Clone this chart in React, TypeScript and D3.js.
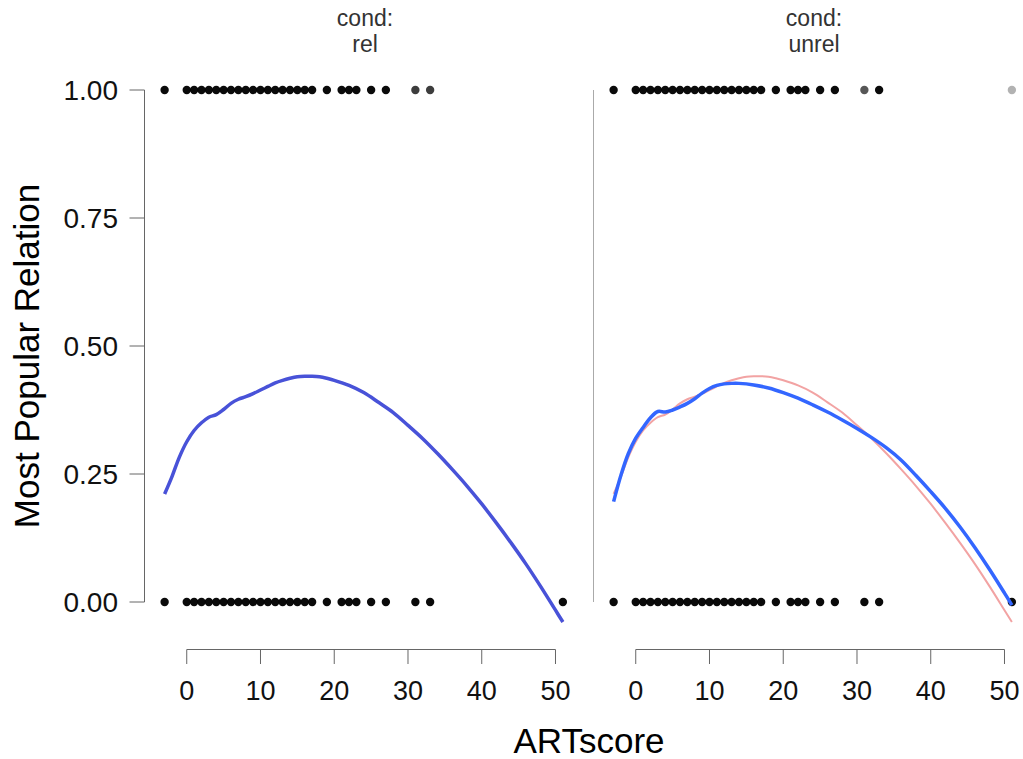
import React from 'react'
import * as d3 from 'd3'

// observed ARTscore values, one row per response (1 = chose most popular relation)
const denseRun = [0, 1, 2, 3, 4, 5, 6, 7, 8, 9, 10, 11, 12, 13, 14, 15, 16, 17]
const relTopX = [-3, ...denseRun, 19, 21, 22, 23, 25, 27, 31, 33]
const relTopN = [9, ...denseRun.map(() => 9), 9, 9, 9, 9, 9, 9, 4, 4]
const relBottomX = [-3, ...denseRun, 19, 21, 22, 23, 25, 27, 31, 33, 51]
const relBottomN = relBottomX.map(() => 9)
const unrelTopX = [-3, ...denseRun, 19, 21, 22, 23, 25, 27, 31, 33, 51]
const unrelTopN = [9, ...denseRun.map(() => 9), 9, 9, 9, 9, 9, 9, 3, 9, 1]
const unrelBottomX = [-3, ...denseRun, 19, 21, 22, 23, 25, 27, 31, 33, 51]
const unrelBottomN = unrelBottomX.map(() => 9)

// smooth fits
const relFitX = [-3, -2, -1, 0, 1, 2, 3, 4, 5, 6, 7, 8, 9, 10, 11, 12, 13, 14, 15, 16, 17, 18, 19, 20, 22, 24, 26, 28, 30, 32, 34, 36, 38, 40, 42, 44, 46, 48, 50, 51]
const relFitY = [0.211, 0.245, 0.283, 0.313, 0.335, 0.35, 0.361, 0.366, 0.376, 0.388, 0.396, 0.401, 0.407, 0.414, 0.421, 0.428, 0.433, 0.437, 0.44, 0.441, 0.441, 0.44, 0.437, 0.433, 0.423, 0.409, 0.39, 0.37, 0.345, 0.319, 0.29, 0.259, 0.2265, 0.1915, 0.154, 0.115, 0.074, 0.03, -0.016, -0.039]
const unrelFitX = [-3, -2, -1, 0, 1, 2, 3, 4, 5, 6, 7, 8, 9, 10, 11, 12, 13, 14, 16, 18, 20, 22, 24, 26, 28, 30, 32, 34, 36, 38, 40, 42, 44, 46, 48, 50, 51]
const unrelFitY = [0.196, 0.248, 0.29, 0.32, 0.341, 0.36, 0.372, 0.371, 0.375, 0.381, 0.388, 0.397, 0.408, 0.417, 0.423, 0.426, 0.427, 0.427, 0.424, 0.418, 0.409, 0.398, 0.385, 0.371, 0.3555, 0.339, 0.321, 0.301, 0.277, 0.247, 0.2155, 0.1825, 0.146, 0.106, 0.063, 0.0174, -0.006]

const xTicks = [0, 10, 20, 30, 40, 50]
const yTicks = [0, 0.25, 0.5, 0.75, 1]
const panelNames = ['rel', 'unrel']

const FONT = '"Liberation Sans", Arial, sans-serif'
const alpha = 0.3

const yScale = d3.scaleLinear().domain([0, 1]).range([602, 90])
const panelLeft = [145, 594]
const panelWidth = 440

const makeX = (left: number) =>
  d3.scaleLinear().domain([-5.66, 54]).range([left, left + panelWidth])

const toPoints = (xs: number[], ys: number[]) => xs.map((x, i) => [x, ys[i]] as [number, number])

const Dots = ({ xs, ns, yv, x }: { xs: number[]; ns: number[]; yv: number; x: d3.ScaleLinear<number, number> }) => (
  <g>
    {xs.map((v, i) => (
      <circle key={i} cx={x(v)} cy={yScale(yv)} r={4.2}
        fill="#000" fillOpacity={1 - Math.pow(1 - alpha, ns[i])} />
    ))}
  </g>
)

const Panel = ({ idx }: { idx: number }) => {
  const left = panelLeft[idx]
  const x = makeX(left)
  const line = d3.line<[number, number]>()
    .x(d => x(d[0]))
    .y(d => yScale(d[1]))
    .curve(d3.curveCatmullRom.alpha(0.5))
  const topX = idx === 0 ? relTopX : unrelTopX
  const topN = idx === 0 ? relTopN : unrelTopN
  const botX = idx === 0 ? relBottomX : unrelBottomX
  const botN = idx === 0 ? relBottomN : unrelBottomN
  const fitX = idx === 0 ? relFitX : unrelFitX
  const fitY = idx === 0 ? relFitY : unrelFitY
  const cx = left + panelWidth / 2
  return (
    <g>
      <text x={cx} y={26} textAnchor="middle" fontSize={23} fill="#333">cond:</text>
      <text x={cx} y={52} textAnchor="middle" fontSize={23} fill="#333">{panelNames[idx]}</text>
      {idx === 1 && (
        <line x1={left - 0.5} x2={left - 0.5} y1={yScale(1)} y2={yScale(0)} stroke="#aaa" strokeWidth={1} />
      )}
      {/* x axis */}
      <line x1={x(0)} x2={x(50)} y1={649.5} y2={649.5} stroke="#666" />
      {xTicks.map(t => (
        <g key={t}>
          <line x1={x(t)} x2={x(t)} y1={649.5} y2={664} stroke="#666" />
          <text x={x(t)} y={700} textAnchor="middle" fontSize={27} fill="#111">{t}</text>
        </g>
      ))}
      <Dots xs={topX} ns={topN} yv={1} x={x} />
      <Dots xs={botX} ns={botN} yv={0} x={x} />
      <path d={line(toPoints(relFitX, relFitY)) || ''} fill="none" stroke="#f2a3a3" strokeWidth={2} />
      <path d={line(toPoints(fitX, fitY)) || ''} fill="none"
        stroke={idx === 0 ? '#4852d8' : '#3366ff'} strokeWidth={3.5} />
    </g>
  )
}

export default function App() {
  return (
    <svg width={1023} height={759} style={{ position: 'absolute', left: 0, top: 0, background: '#fff' }}
      fontFamily={FONT}>
      {/* y axis */}
      <line x1={144.5} x2={144.5} y1={yScale(1)} y2={yScale(0)} stroke="#666" />
      {yTicks.map(t => (
        <g key={t}>
          <line x1={129.5} x2={144.5} y1={yScale(t)} y2={yScale(t)} stroke="#666" />
          <text x={118} y={yScale(t)} dy="0.36em" textAnchor="end" fontSize={28} fill="#111">
            {d3.format('.2f')(t)}
          </text>
        </g>
      ))}
      <text transform={`translate(39,${yScale(0.5) + 10}) rotate(-90)`} textAnchor="middle" fontSize={35} fill="#000">
        Most Popular Relation
      </text>
      {panelNames.map((_, i) => <Panel key={i} idx={i} />)}
      <text x={589} y={753} textAnchor="middle" fontSize={35} fill="#000">ARTscore</text>
    </svg>
  )
}
